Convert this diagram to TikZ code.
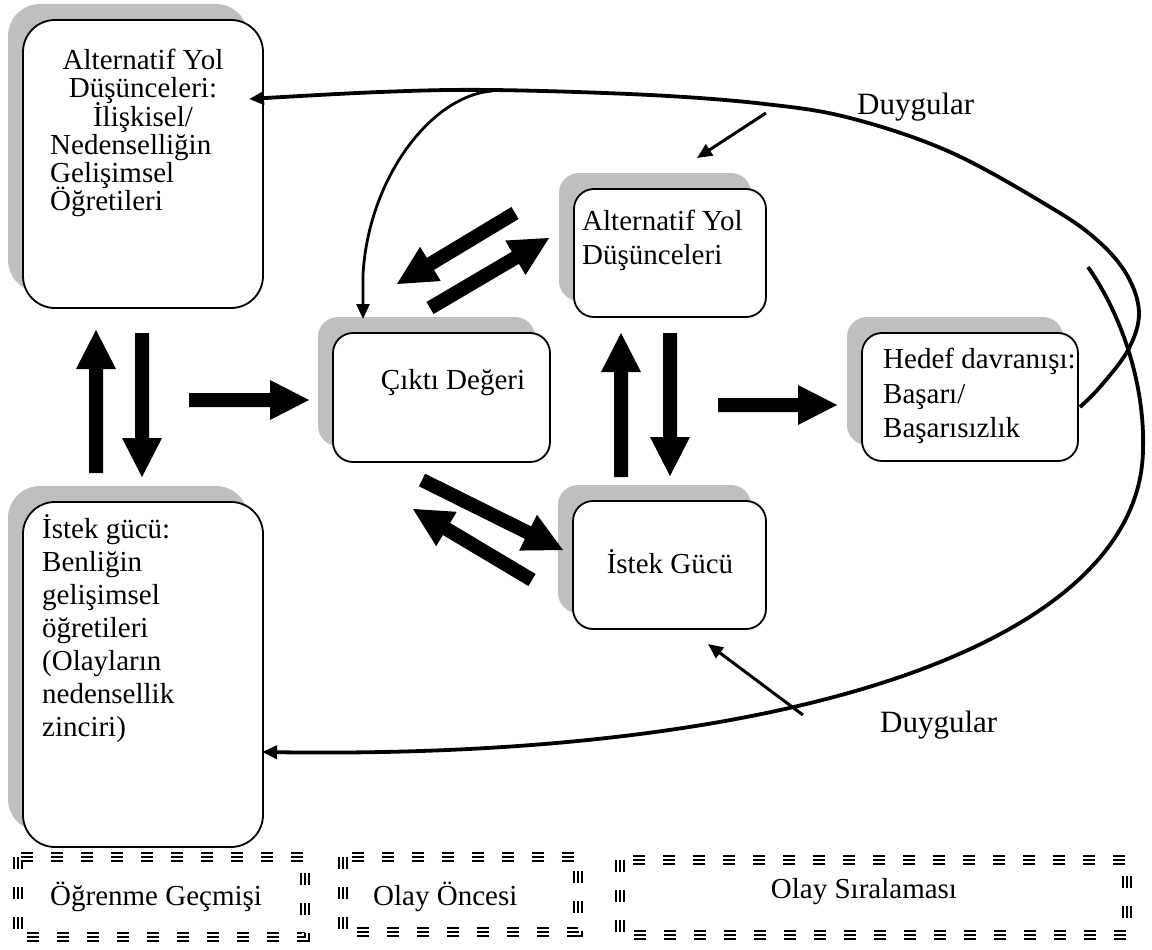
\documentclass[tikz,border=0pt]{standalone}
\usepackage{fontspec}
\setmainfont{Liberation Serif}
\usetikzlibrary{arrows.meta,shadows}
\definecolor{shd}{RGB}{191,191,191}
\tikzset{
  box/.style={draw=black, line width=1.8pt, fill=white, rounded corners=#1, inner sep=0pt,
    general shadow={fill=shd, shadow xshift=-15pt, shadow yshift=16pt}},
  box/.default=20pt,
  txt/.style={inner sep=0pt, font=\fontsize{29}{34}\selectfont},
  tip/.style={-{Triangle[length=15pt,width=13pt]}},
  thinar/.style={line width=3pt, tip},
  bigcurve/.style={line width=3.8pt},
  midcurve/.style={line width=2.8pt},
  frame/.style={draw=none, inner sep=0pt},
}
\newcommand\blockar[2]{%
  \path (#1); \pgfgetlastxy{\bxa}{\bya}%
  \path (#2); \pgfgetlastxy{\bxb}{\byb}%
  \pgfmathsetmacro\bang{atan2(\byb-\bya,\bxb-\bxa)}%
  \pgfmathsetmacro\blen{veclen(\bxb-\bxa,\byb-\bya)}%
  \fill[shift={(\bxa,\bya)}, rotate=\bang] (0pt,7pt) -- ({\blen pt-39pt},7pt) -- ({\blen pt-39pt},20pt)
     -- (\blen pt,0pt) -- ({\blen pt-39pt},-20pt) -- ({\blen pt-39pt},-7pt) -- (0pt,-7pt) -- cycle;}
\newcommand\tribox[2]{%
  \draw[line width=10.5pt, dash pattern=on 12pt off 18pt] (#1) rectangle (#2);
  \draw[white, line width=5.5pt, dash pattern=on 12pt off 18pt] (#1) rectangle (#2);
  \draw[line width=2.5pt, dash pattern=on 12pt off 18pt] (#1) rectangle (#2);}
\begin{document}
\begin{tikzpicture}[x=1pt, y=-1pt]
\useasboundingbox (0,0) rectangle (1152,950);

% boxes
\node[box=32pt, minimum width=240pt, minimum height=288pt] (altA) at (143,164) {};
\node[box=32pt, minimum width=240pt, minimum height=345pt] (istB) at (143,674.5) {};
\node[box, minimum width=217pt, minimum height=129pt] (cikti) at (441.5,397.5) {};
\node[box, minimum width=192pt, minimum height=128pt] (altM) at (670,253) {};
\node[box, minimum width=193pt, minimum height=128pt] (istM) at (669.5,565) {};
\node[box, minimum width=216pt, minimum height=128pt] (hedef) at (970,397) {};

% texts in boxes
\node[txt, anchor=base] (a1) at (143,70) {Alternatif Yol};
\node[txt, anchor=base] (a2) at (143,98) {Düşünceleri:};
\node[txt, anchor=base] (a3) at (143,126) {İlişkisel/};
\node[txt, anchor=base west] (a4) at (50,154) {Nedenselliğin};
\node[txt, anchor=base west] (a5) at (50,182) {Gelişimsel};
\node[txt, anchor=base west] (a6) at (50,210) {Öğretileri};

\node[txt, anchor=base west] (b1) at (42,538) {İstek gücü:};
\node[txt, anchor=base west] (b2) at (42,571) {Benliğin};
\node[txt, anchor=base west] (b3) at (42,604) {gelişimsel};
\node[txt, anchor=base west] (b4) at (42,637) {öğretileri};
\node[txt, anchor=base west] (b5) at (42,670) {(Olayların};
\node[txt, anchor=base west] (b6) at (42,703) {nedensellik};
\node[txt, anchor=base west] (b7) at (42,736) {zinciri)};

\node[txt, anchor=base] (c1) at (453,389) {Çıktı Değeri};
\node[txt, anchor=base west] (m1) at (582,230) {Alternatif Yol};
\node[txt, anchor=base west] (m2) at (582,264) {Düşünceleri};
\node[txt, anchor=base] (i1) at (670,573) {İstek Gücü};
\node[txt, anchor=base west] (h1) at (883,368) {Hedef davranışı:};
\node[txt, anchor=base west] (h2) at (883,403) {Başarı/};
\node[txt, anchor=base west] (h3) at (883,437) {Başarısızlık};

\node[txt, anchor=base west, font=\fontsize{31}{36}\selectfont] (duy1) at (857,114) {Duygular};
\node[txt, anchor=base west, font=\fontsize{31}{36}\selectfont] (duy2) at (880,732) {Duygular};

% block arrows
\coordinate (p1s) at (96,473);  \coordinate (p1e) at (96,330);
\coordinate (p2s) at (142,333); \coordinate (p2e) at (142,477);
\coordinate (p3s) at (189,400); \coordinate (p3e) at (309,400);
\coordinate (p4s) at (621,477); \coordinate (p4e) at (621,333);
\coordinate (p5s) at (670,333); \coordinate (p5e) at (670,476);
\coordinate (p6s) at (718,405); \coordinate (p6e) at (837,405);
\coordinate (p7s) at (422,480); \coordinate (p7e) at (563,550);
\coordinate (p8s) at (532,580); \coordinate (p8e) at (413,509);
\coordinate (p9s) at (515,213); \coordinate (p9e) at (397,284);
\coordinate (p10s) at (430,308); \coordinate (p10e) at (549,238);
\blockar{p1s}{p1e}
\blockar{p2s}{p2e}
\blockar{p3s}{p3e}
\blockar{p4s}{p4e}
\blockar{p5s}{p5e}
\blockar{p6s}{p6e}
\blockar{p7s}{p7e}
\blockar{p8s}{p8e}
\blockar{p9s}{p9e}
\blockar{p10s}{p10e}

% big curves
\coordinate (tcS) at (1080,407); \coordinate (tcE) at (249,99);
\draw[bigcurve, tip] plot[smooth, tension=0.6] coordinates {(tcS) (1100,387) (1128,350) (1139,313) (1127,275) (1097,240) (1050,207) (950,152) (850,118) (765,104) (650,95) (492,90) (380,92) (tcE)};
\coordinate (bcS) at (1088,267); \coordinate (bcM) at (1143,450); \coordinate (bcE) at (262,752);
\draw[bigcurve, tip] (bcS) .. controls (1125,320) and (1145,390) .. (bcM)
   .. controls (1140,640) and (800,760) .. (bcE);

% branch to Cikti
\coordinate (br0) at (492,91); \coordinate (brE) at (363,319);
\draw[midcurve, tip] (br0) .. controls (430,96) and (368,180) .. (363,275) -- (brE);

% Duygular arrows
\coordinate (d1s) at (766,113); \coordinate (d1e) at (697,158);
\coordinate (d2s) at (803,715); \coordinate (d2e) at (708,644);
\draw[thinar] (d1s) -- (d1e);
\draw[thinar] (d2s) -- (d2e);

% dashed bottom frames
\node[frame, minimum width=287pt, minimum height=80pt] (og) at (161.5,897) {};
\node[frame, minimum width=235pt, minimum height=75pt] (oo) at (460.5,894.5) {};
\node[frame, minimum width=507pt, minimum height=75pt] (os) at (873.5,897.5) {};
\tribox{og.north west}{og.south east}
\tribox{oo.north west}{oo.south east}
\tribox{os.north west}{os.south east}
\node[txt, anchor=base west] (ogt) at (50,905) {Öğrenme Geçmişi};
\node[txt, anchor=base west] (oot) at (373,905) {Olay Öncesi};
\node[txt, anchor=base] (ost) at (864,898) {Olay Sıralaması};
\end{tikzpicture}
\end{document}
